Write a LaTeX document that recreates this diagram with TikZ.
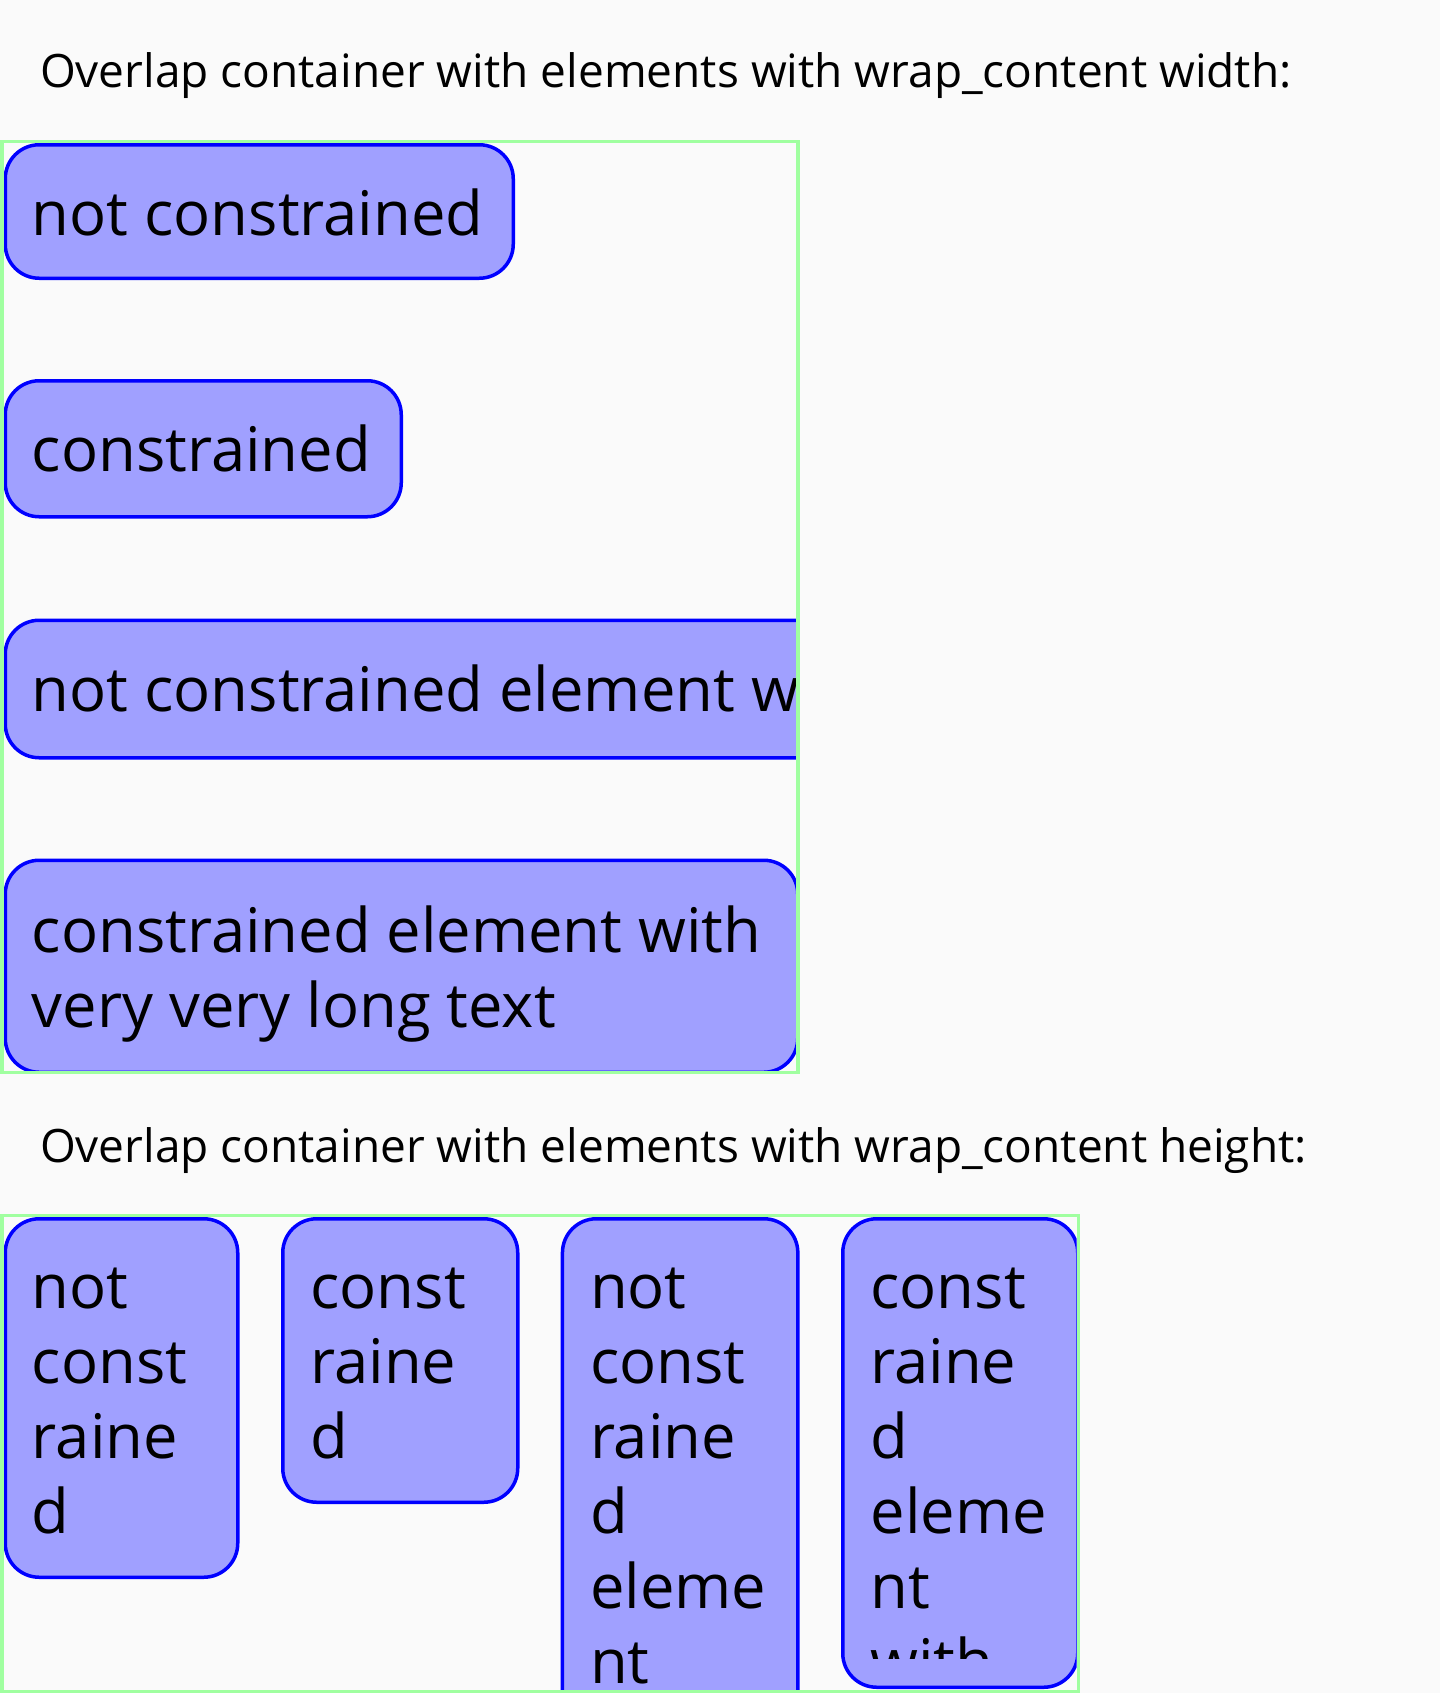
\documentclass[tikz,border=0pt]{standalone}
\usepackage{fontspec}
\setmainfont{Open Sans}
\definecolor{bgc}{HTML}{FAFAFA}
\definecolor{cgreen}{HTML}{A0FFA0}
\definecolor{eblue}{HTML}{0000FF}
\definecolor{efill}{HTML}{A0A0FF}
\newcommand\elemfont{\fontsize{30.75pt}{37.5pt}\selectfont}
\newcommand\ttlfont{\fontsize{23pt}{28pt}\selectfont}
\begin{document}
\begin{tikzpicture}[x=0.5pt,y=-0.5pt,
  cont/.style={draw=cgreen,line width=1.75pt},
  elem/.style={draw=eblue,fill=efill,line width=1.75pt,rounded corners=17pt},
  btext/.style={anchor=base west,inner sep=0pt,outer sep=0pt,font=\elemfont,text=black},
  ttl/.style={anchor=base west,inner sep=0pt,outer sep=0pt,font=\ttlfont,text=black}]
\fill[bgc] (0,0) rectangle (1440,1693);
\useasboundingbox (0,0) rectangle (1440,1693);

% ---------- first section ----------
\node[ttl] (t1) at (40,87) {Overlap container with elements with wrap\_content width:};

\begin{scope}
  \clip (3.5,143) rectangle (796,1070.5);
  \draw[elem] (5.25,144.75) rectangle (513.25,278.25);
  \node[btext] (e1) at (32,235) {not constrained};
  \draw[elem] (5.25,380.75) rectangle (401.25,516.75);
  \node[btext] (e2) at (32,471) {constrained};
  \draw[elem] (5.25,620.25) rectangle (1298,757.75);
  \node[btext] (e3) at (32,711) {not constrained element with very very long text};
  \draw[elem] (5.25,860.25) rectangle (797.75,1072.25);
  \node[btext] (e4a) at (32,952) {constrained element with};
  \node[btext] (e4b) at (32,1027.5) {very very long text};
\end{scope}
\draw[cont] (1.75,141.25) rectangle (797.75,1072.25);

% ---------- second section ----------
\node[ttl] (t2) at (40,1162) {Overlap container with elements with wrap\_content height:};

\begin{scope}
  \clip (3.5,1217) rectangle (1076.5,1689.5);
  \draw[elem] (5.25,1218.75) rectangle (237.75,1577.25);
  \foreach \w [count=\i] in {not,const,raine,d}
    \node[btext] (a\i) at (32,{1233+75*\i}) {\w};
  \draw[elem] (282.75,1218.75) rectangle (517.75,1502.25);
  \foreach \w [count=\i] in {const,raine,d}
    \node[btext] (b\i) at (310.5,{1233+75*\i}) {\w};
  \draw[elem] (562.45,1218.75) rectangle (797.85,1758);
  \foreach \w [count=\i] in {not,const,raine,d,eleme,nt,with}
    \node[btext] (c\i) at (590,{1233+75*\i}) {\w};
  \draw[elem] (842.75,1218.75) rectangle (1077.75,1687.25);
  \begin{scope}
    \clip (841,1217) rectangle (1080,1658);
    \foreach \w [count=\i] in {const,raine,d,eleme,nt,with}
      \node[btext] (d\i) at (870.5,{1233+75*\i}) {\w};
  \end{scope}
\end{scope}
\draw[cont] (1.75,1215.25) rectangle (1078.25,1691.25);
\end{tikzpicture}
\end{document}
